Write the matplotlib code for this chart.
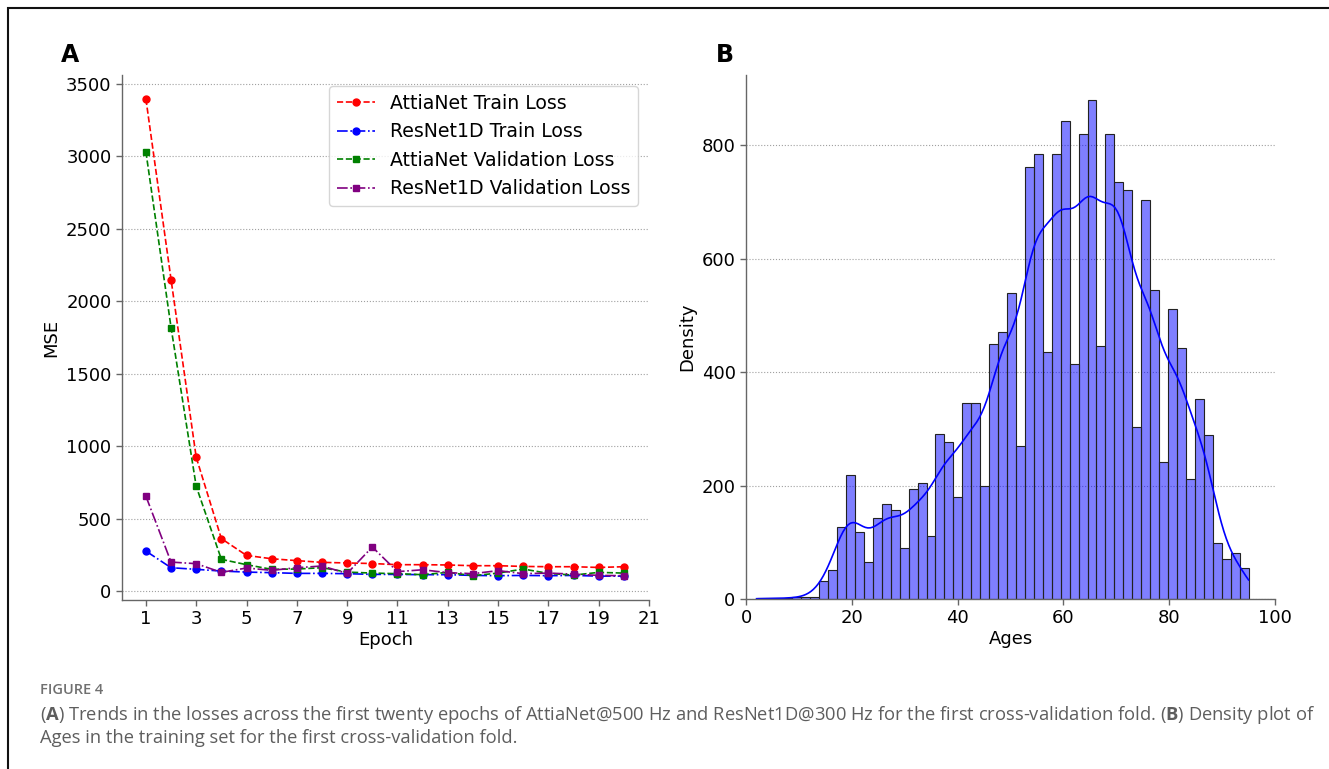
import numpy as np
import matplotlib
matplotlib.use("Agg")
import matplotlib.pyplot as plt
import seaborn as sns
from matplotlib.patches import Rectangle

# ---- Panel A: loss curves over the first twenty epochs ----
epochs = list(range(1, 21))
attianet_train = [3397, 2150, 923, 362, 246, 223, 210, 198, 194, 190,
                  182, 182, 180, 175, 175, 170, 168, 168, 163, 168]
resnet_train = [276, 161, 150, 138, 131, 127, 122, 122, 120, 115,
                115, 113, 113, 108, 106, 108, 106, 108, 103, 103]
attianet_val = [3032, 1819, 723, 219, 182, 150, 152, 161, 131, 124,
                120, 113, 129, 106, 124, 152, 122, 110, 129, 124]
resnet_val = [655, 200, 189, 129, 159, 143, 161, 173, 122, 304,
              134, 147, 127, 120, 141, 120, 124, 117, 108, 106]

# ---- Panel B: age histogram (55 bins from 2 to 95 years) ----
age_min, age_max, n_bins = 2, 95, 55
age_counts = [1, 1, 1, 1, 3, 3, 3, 32, 52, 127,
              219, 118, 65, 143, 168, 157, 90, 194, 204, 111,
              291, 276, 180, 346, 346, 199, 449, 470, 539, 270,
              762, 784, 436, 784, 843, 414, 820, 880, 446, 820,
              735, 721, 304, 703, 545, 241, 511, 443, 211, 352,
              289, 99, 70, 81, 55]

epoch_ticks = list(range(1, 22, 2))
mse_ticks = list(range(0, 3501, 500))
age_ticks = list(range(0, 101, 20))
count_ticks = list(range(0, 801, 200))

caption_title = "FIGURE 4"
caption_line1 = (r"(${\bf A}$) Trends in the losses across the first twenty epochs of "
                 r"AttiaNet@500 Hz and ResNet1D@300 Hz for the first cross-validation fold. "
                 r"(${\bf B}$) Density plot of")
caption_line2 = "Ages in the training set for the first cross-validation fold."

plt.rcParams["mathtext.fontset"] = "custom"
plt.rcParams["mathtext.rm"] = "Open Sans"
plt.rcParams["mathtext.bf"] = "Open Sans:bold"

W, H = 1329, 769
fig = plt.figure(figsize=(W / 100, H / 100), dpi=100)


def px_axes(left, top, right, bottom):
    return fig.add_axes([left / W, 1 - bottom / H, (right - left) / W, (bottom - top) / H])


FS = 13
spine_col = "#666666"


def style_axes(ax):
    for side in ("top", "right"):
        ax.spines[side].set_visible(False)
    for side in ("left", "bottom"):
        ax.spines[side].set_color(spine_col)
        ax.spines[side].set_linewidth(1.0)
    ax.tick_params(labelsize=FS, color=spine_col, length=4, width=1.0)
    ax.grid(axis="y", linestyle=":", color="#a0a0a0", linewidth=0.8)
    ax.set_axisbelow(True)


# Panel A
axA = px_axes(122, 75, 649, 600)
line_kw = dict(markersize=5, linewidth=1.2)
axA.plot(epochs, attianet_train, color="red", linestyle="--", marker="o",
         label="AttiaNet Train Loss", **line_kw)
axA.plot(epochs, resnet_train, color="blue", linestyle="-.", marker="o",
         label="ResNet1D Train Loss", **line_kw)
axA.plot(epochs, attianet_val, color="green", linestyle="--", marker="s",
         label="AttiaNet Validation Loss", **line_kw)
axA.plot(epochs, resnet_val, color="purple", linestyle="-.", marker="s",
         label="ResNet1D Validation Loss", **line_kw)
axA.set_xticks(epoch_ticks)
axA.set_yticks(mse_ticks)
axA.set_xlabel("Epoch", fontsize=FS, labelpad=2)
axA.set_ylabel("MSE", fontsize=FS)
style_axes(axA)
axA.legend(loc="upper right", fontsize=13.6, borderaxespad=0.6)

# Panel B
axB = px_axes(746, 75, 1275, 599)
edges = np.linspace(age_min, age_max, n_bins + 1)
centers = (edges[:-1] + edges[1:]) / 2
ages = np.repeat(centers, age_counts)
sns.histplot(ages, bins=edges, kde=True, color="blue", alpha=0.5,
             edgecolor="#222222", linewidth=0.8,
             kde_kws=dict(cut=1, clip=(age_min, age_max)),
             line_kws=dict(linewidth=1.2), ax=axB)
axB.set_xlim(0, 100)
axB.set_xticks(age_ticks)
axB.set_yticks(count_ticks)
axB.set_xlabel("Ages", fontsize=FS, labelpad=2)
axB.set_ylabel("Density", fontsize=FS)
style_axes(axB)

# Panel letters
fig.text(70 / W, 1 - 55 / H, "A", fontsize=17, fontweight="bold", ha="center", va="center")
fig.text(725 / W, 1 - 55 / H, "B", fontsize=17, fontweight="bold", ha="center", va="center")

# Outer frame (open to the right and bottom)
fig.patches.append(Rectangle((7.5 / W, -0.2), 1.5, 1 - 8.5 / H + 0.2, transform=fig.transFigure,
                             fill=False, edgecolor="#111111", linewidth=1.5))

# Caption
cap_col = "#5e5e5e"
fig.text(40 / W, 1 - 690 / H, caption_title, fontsize=10.5, fontweight="semibold",
         family="Open Sans", color="#707070", ha="left", va="center")
cap_kw = dict(family="Open Sans", color=cap_col, ha="left", va="center")
t1 = fig.text(40 / W, 1 - 715 / H, caption_line1, fontsize=10.5, **cap_kw)
t2 = fig.text(40 / W, 1 - 738 / H, caption_line2, fontsize=10.5, **cap_kw)
renderer = fig.canvas.get_renderer()
w1 = t1.get_window_extent(renderer).width
fs = 10.5 * (1282 / w1)
t1.set_fontsize(fs)
t2.set_fontsize(fs)

fig.savefig("out.png", dpi=100)
